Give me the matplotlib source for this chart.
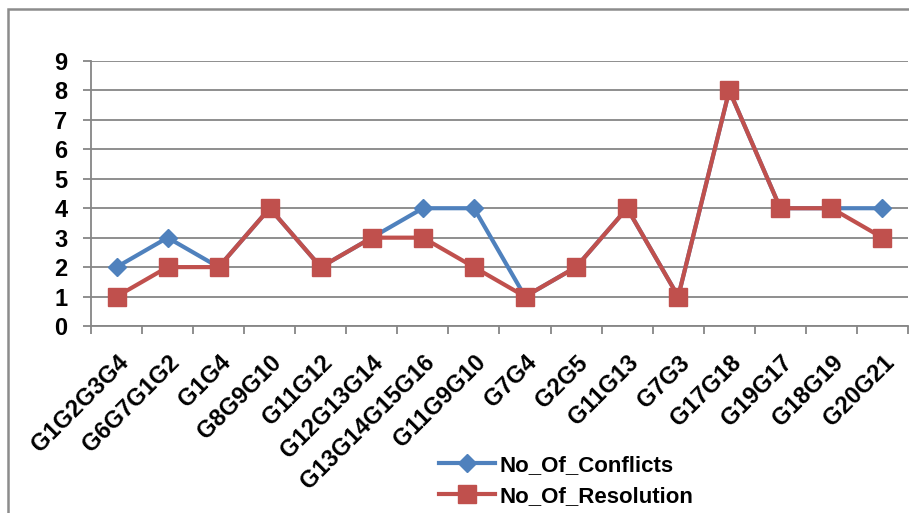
import matplotlib
matplotlib.use("Agg")
import matplotlib.pyplot as plt
from matplotlib.patches import Rectangle

plt.rcParams['font.family'] = ['Liberation Sans', 'DejaVu Sans']
plt.rcParams['font.weight'] = 'bold'

groups = ["G1G2G3G4", "G6G7G1G2", "G1G4", "G8G9G10", "G11G12", "G12G13G14",
          "G13G14G15G16", "G11G9G10", "G7G4", "G2G5", "G11G13", "G7G3",
          "G17G18", "G19G17", "G18G19", "G20G21"]
conflicts = [2, 3, 2, 4, 2, 3, 4, 4, 1, 2, 4, 1, 8, 4, 4, 4]
resolution = [1, 2, 2, 4, 2, 3, 3, 2, 1, 2, 4, 1, 8, 4, 4, 3]

W, H = 909, 513
fig = plt.figure(figsize=(W / 100, H / 100), dpi=100)

# chart frame
fig.patches.append(Rectangle((8 / W, -0.1), 1.2, 1 - 9 / H + 0.1,
                             transform=fig.transFigure, fill=False,
                             edgecolor='#8c8c8c', linewidth=1.8))

ax = fig.add_axes([91 / W, 1 - 326 / H, 817 / W, 265 / H])
grid_c = '#868686'
x = list(range(len(groups)))

ax.plot(x, conflicts, color='#4F81BD', linewidth=3, marker='D',
        markersize=9.5, markeredgecolor='#4F81BD', label='No_Of_Conflicts', zorder=3)
ax.plot(x, resolution, color='#C0504D', linewidth=3, marker='s',
        markersize=13.5, markeredgecolor='#C0504D', label='No_Of_Resolution', zorder=4)

ax.set_xlim(-0.5, len(groups) - 0.5)
ax.set_ylim(0, 9)
ax.set_yticks(range(10))
ax.yaxis.grid(True, color=grid_c, linewidth=1.3)
ax.set_axisbelow(True)

ax.set_xticks([i - 0.5 for i in range(len(groups) + 1)], minor=False)
ax.set_xticklabels([])
ax.set_xticks(x, minor=True)
ax.set_xticklabels(groups, minor=True, rotation=45, ha='right',
                   rotation_mode='anchor', fontsize=17, fontweight='bold')
ax.tick_params(axis='x', which='minor', length=0, pad=18)
ax.tick_params(axis='x', which='major', length=6, color=grid_c, width=1.3)
ax.tick_params(axis='y', length=6, color=grid_c, width=1.3, labelsize=17, pad=11)
for lbl in ax.get_yticklabels():
    lbl.set_fontweight('bold')

for s in ['top', 'right']:
    ax.spines[s].set_visible(False)
for s in ['left', 'bottom']:
    ax.spines[s].set_color(grid_c)
    ax.spines[s].set_linewidth(1.3)

leg = fig.legend(loc='upper left', bbox_to_anchor=(428 / W, 1 - 444 / H),
                 frameon=False, fontsize=16, handlelength=2.5,
                 handletextpad=0.2, labelspacing=0.45, borderpad=0)
for t in leg.get_texts():
    t.set_fontweight('bold')

fig.savefig('out.png', dpi=100)
